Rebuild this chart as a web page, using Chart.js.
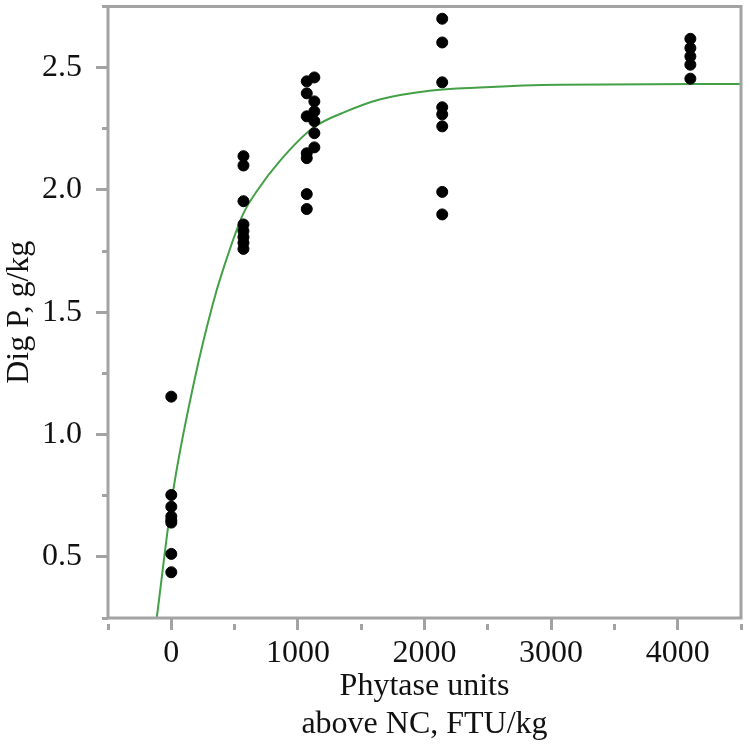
<!DOCTYPE html>
<html>
<head>
<meta charset="utf-8">
<script src="https://cdn.jsdelivr.net/npm/chart.js@4/dist/chart.umd.min.js"></script>
<style>
  html, body { margin: 0; padding: 0; background: #fff; }
  #wrap { width: 750px; height: 750px; }
</style>
</head>
<body>
<div id="wrap"><canvas id="c" width="750" height="750"></canvas></div>
<script>
// observed points, FTU/kg above NC vs digestible P (g/kg)
const doseX = [0, 0, 0, 0, 0, 0, 0, 0,
  570, 570, 570, 570, 570, 570, 570, 570,
  1070, 1070, 1070, 1070, 1070, 1070, 1070,
  1130, 1130, 1130, 1130, 1130, 1130,
  2140, 2140, 2140, 2140, 2140, 2140, 2140, 2140,
  4100, 4100, 4100, 4100, 4100];
const digP = [1.155, 0.753, 0.705, 0.665, 0.650, 0.640, 0.512, 0.437,
  2.138, 2.100, 1.954, 1.859, 1.832, 1.807, 1.784, 1.759,
  2.444, 2.395, 2.301, 2.150, 2.130, 1.983, 1.922,
  2.460, 2.362, 2.321, 2.281, 2.232, 2.174,
  2.700, 2.603, 2.440, 2.338, 2.309, 2.260, 1.992, 1.900,
  2.618, 2.580, 2.546, 2.512, 2.455];

// fitted curve
const fitX = [-115, 10, 184, 326, 405, 566, 682, 855, 1118, 1382, 1645, 2040, 2435, 3067, 4500];
const fitY = [0.25, 0.754, 1.225, 1.53, 1.668, 1.90, 2.0, 2.117, 2.253, 2.321, 2.37, 2.406, 2.419, 2.430, 2.433];

const xMin = -500, xMax = 4500;
const yMin = 0.25, yMax = 2.75;

const axisGrey = '#a3a3a3';
const serif = "'Liberation Serif', 'Times New Roman', serif";

const frame = {
  id: 'frame',
  afterDraw(chart) {
    const a = chart.chartArea;
    const ctx = chart.ctx;
    ctx.save();
    ctx.strokeStyle = axisGrey;
    ctx.lineWidth = 3;
    ctx.strokeRect(a.left, a.top, a.right - a.left, a.bottom - a.top);
    ctx.restore();
  }
};

function isMajor(v, step) {
  return Math.abs(v / step - Math.round(v / step)) < 1e-6;
}

new Chart(document.getElementById('c'), {
  type: 'scatter',
  data: {
    datasets: [
      {
        label: 'observed',
        data: doseX.map((x, i) => ({ x: x, y: digP[i] })),
        backgroundColor: '#000',
        borderColor: '#000',
        pointRadius: 5.5,
        pointHoverRadius: 5.5
      },
      {
        label: 'fit',
        data: fitX.map((x, i) => ({ x: x, y: fitY[i] })),
        showLine: true,
        borderColor: '#43a047',
        borderWidth: 2,
        pointRadius: 0,
        cubicInterpolationMode: 'monotone'
      }
    ]
  },
  options: {
    responsive: false,
    animation: false,
    layout: { padding: { top: 5, right: 9, left: 0, bottom: 0 } },
    plugins: { legend: { display: false }, tooltip: { enabled: false } },
    scales: {
      x: {
        type: 'linear',
        min: xMin,
        max: xMax,
        afterFit(s) { s.height = 132; s.paddingLeft = 0; s.paddingRight = 0; },
        border: { display: false },
        grid: {
          drawOnChartArea: false,
          tickLength: 12,
          tickWidth: 3,
          tickColor: axisGrey,
          tickBorderDash: ctx => isMajor(ctx.tick.value, 1000) ? [] : [6, 6],
          tickBorderDashOffset: ctx => isMajor(ctx.tick.value, 1000) ? 0 : 6
        },
        ticks: {
          stepSize: 500,
          padding: 4,
          color: '#111',
          font: { family: serif, size: 32 },
          maxRotation: 0,
          autoSkip: false,
          callback: v => isMajor(v, 1000) && v >= 0 ? String(v) : ''
        },
        title: {
          display: true,
          text: ['Phytase units', 'above NC, FTU/kg'],
          color: '#111',
          font: { family: serif, size: 32, lineHeight: 1.19 },
          padding: { top: 0, bottom: 6 }
        }
      },
      y: {
        type: 'linear',
        min: yMin,
        max: yMax,
        afterFit(s) { s.width = 108; s.paddingTop = 0; s.paddingBottom = 0; },
        border: { display: false },
        grid: {
          drawOnChartArea: false,
          tickLength: 12,
          tickWidth: 3,
          tickColor: axisGrey,
          tickBorderDash: ctx => isMajor(ctx.tick.value, 0.5) ? [] : [6, 6],
          tickBorderDashOffset: ctx => isMajor(ctx.tick.value, 0.5) ? 0 : 6
        },
        ticks: {
          stepSize: 0.25,
          padding: 14,
          color: '#111',
          font: { family: serif, size: 32 },
          autoSkip: false,
          callback: v => isMajor(v, 0.5) ? v.toFixed(1) : ''
        },
        title: {
          display: true,
          text: 'Dig P, g/kg',
          color: '#111',
          font: { family: serif, size: 32 },
          padding: { top: 0, bottom: 0 }
        }
      }
    }
  },
  plugins: [frame]
});
</script>
</body>
</html>
